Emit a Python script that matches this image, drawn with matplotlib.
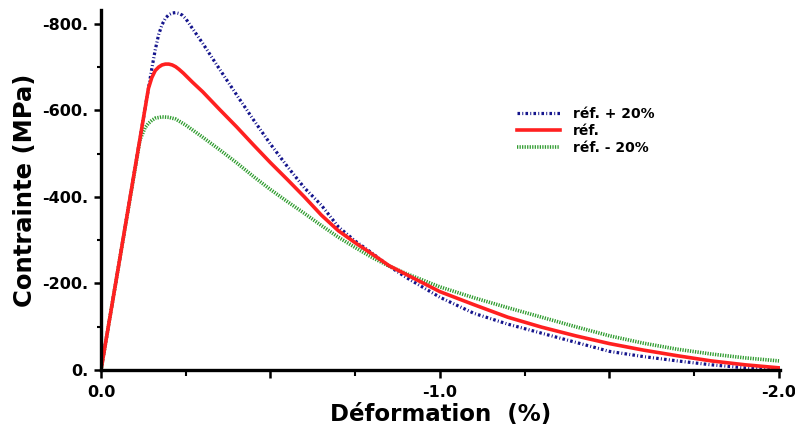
import matplotlib
matplotlib.use("Agg")
import matplotlib.pyplot as plt
from matplotlib.ticker import MultipleLocator, FuncFormatter

# Strain (%) and stress (MPa) (compression: negative)
strain_plus = [0.0, 0.05, 0.10, 0.14, 0.15, 0.16, 0.17, 0.18, 0.19, 0.20, 0.21, 0.22, 0.23,
               0.24, 0.25, 0.27, 0.30, 0.35, 0.40, 0.45, 0.50, 0.55, 0.60, 0.65, 0.70,
               0.75, 0.80, 0.85, 0.90, 1.00, 1.10, 1.20, 1.30, 1.40, 1.50, 1.60, 1.70,
               1.80, 1.90, 2.00]
stress_plus = [0, 232, 465, 651, 697, 740, 775, 798, 813, 821, 825, 826, 824,
               820, 812, 789, 755, 695, 636, 578, 522, 470, 421, 381, 331,
               298, 270, 240, 214, 168, 131, 106, 85, 64, 43, 31, 21,
               12, 5, 1]

strain_ref = [0.0, 0.05, 0.10, 0.14, 0.15, 0.16, 0.17, 0.18, 0.19, 0.20, 0.21, 0.22, 0.23,
              0.243, 0.27, 0.30, 0.35, 0.40, 0.45, 0.50, 0.55, 0.60, 0.65, 0.70, 0.75,
              0.80, 0.85, 0.90, 1.00, 1.10, 1.20, 1.30, 1.40, 1.50, 1.60, 1.70, 1.80,
              1.90, 2.00]
stress_ref = [0, 232, 465, 651, 676, 692, 700, 705, 707, 707, 705, 701, 695,
              686, 665, 643, 602, 562, 520, 479, 440, 400, 358, 322, 294,
              268, 241, 221, 181, 151, 122, 99, 79, 61, 46, 33, 21,
              12, 5]

strain_minus = [0.0, 0.05, 0.10, 0.115, 0.13, 0.14, 0.15, 0.16, 0.18, 0.20, 0.22, 0.25,
                0.30, 0.35, 0.40, 0.45, 0.50, 0.55, 0.60, 0.65, 0.70, 0.75, 0.80, 0.85,
                0.90, 1.00, 1.10, 1.20, 1.30, 1.40, 1.50, 1.60, 1.70, 1.80, 1.90, 2.00]
stress_minus = [0, 232, 462, 532, 560, 570, 577, 582, 585, 584, 580, 566,
                538, 509, 479, 447, 417, 389, 362, 334, 307, 283, 260, 240,
                223, 192, 167, 144, 122, 100, 79, 62, 48, 37, 28, 21]

labels = ["réf. + 20%", "réf.", "réf. - 20%"]
colors = ["#14148c", "#ff2020", "#2e9b2e"]

x_ticks_major = 0.5
x_ticks_minor = 0.25
y_ticks_major = 200
y_ticks_minor = 100

fig = plt.figure(figsize=(7.95, 4.30), dpi=100)
ax = fig.add_axes([101/795, 60/430, (780-101)/795, (370-10)/430])

ax.plot([-v for v in strain_plus], [-v for v in stress_plus], color=colors[0], lw=2.3,
        linestyle=(0, (0.8, 0.7, 0.3, 0.7)), label=labels[0], zorder=3)
ax.plot([-v for v in strain_ref], [-v for v in stress_ref], color=colors[1], lw=2.6,
        linestyle='-', label=labels[1], zorder=4)
ax.plot([-v for v in strain_minus], [-v for v in stress_minus], color=colors[2], lw=2.6,
        linestyle=(0, (0.35, 0.35)), label=labels[2], zorder=3)

ax.set_xlim(0, -2.003)
ax.set_ylim(0, -832)

for s in ["top", "right"]:
    ax.spines[s].set_visible(False)
for s in ["left", "bottom"]:
    ax.spines[s].set_linewidth(2.4)
    ax.spines[s].set_color("black")
    ax.spines[s].set_zorder(5)

ax.xaxis.set_major_locator(MultipleLocator(x_ticks_major))
ax.xaxis.set_minor_locator(MultipleLocator(x_ticks_minor))
ax.yaxis.set_major_locator(MultipleLocator(y_ticks_major))
ax.yaxis.set_minor_locator(MultipleLocator(y_ticks_minor))

def xfmt(v, pos):
    if abs(v - round(v)) < 1e-6:
        r = round(v)
        return "0.0" if r == 0 else "-%d.0" % abs(r)
    return ""

def yfmt(v, pos):
    r = int(round(v))
    return "0." if r == 0 else "-%d." % abs(r)

ax.xaxis.set_major_formatter(FuncFormatter(xfmt))
ax.yaxis.set_major_formatter(FuncFormatter(yfmt))

ax.tick_params(axis="x", which="major", direction="out", length=6, width=1.8, pad=5)
ax.tick_params(axis="x", which="minor", direction="out", length=4, width=1.5)
ax.tick_params(axis="y", which="major", direction="out", length=5, width=1.8, pad=4)
ax.tick_params(axis="y", which="minor", direction="out", length=3, width=1.5)

for lab in ax.get_xticklabels() + ax.get_yticklabels():
    lab.set_fontweight("bold")
    lab.set_fontsize(11.5)
    lab.set_fontfamily("DejaVu Sans")

ax.set_xlabel("Déformation  (%)", fontsize=16.5, fontweight="bold", labelpad=2)
ax.set_ylabel("Contrainte (MPa)", fontsize=17.5, fontweight="bold", labelpad=4)

leg = ax.legend(loc="upper left", bbox_to_anchor=(517/795, 1 - 107/430),
                bbox_transform=fig.transFigure, frameon=False, borderpad=0,
                borderaxespad=0, handlelength=3.1, handletextpad=0.9,
                labelspacing=0.22, prop={"weight": "bold", "size": 10})

fig.savefig("out.png", dpi=100)
